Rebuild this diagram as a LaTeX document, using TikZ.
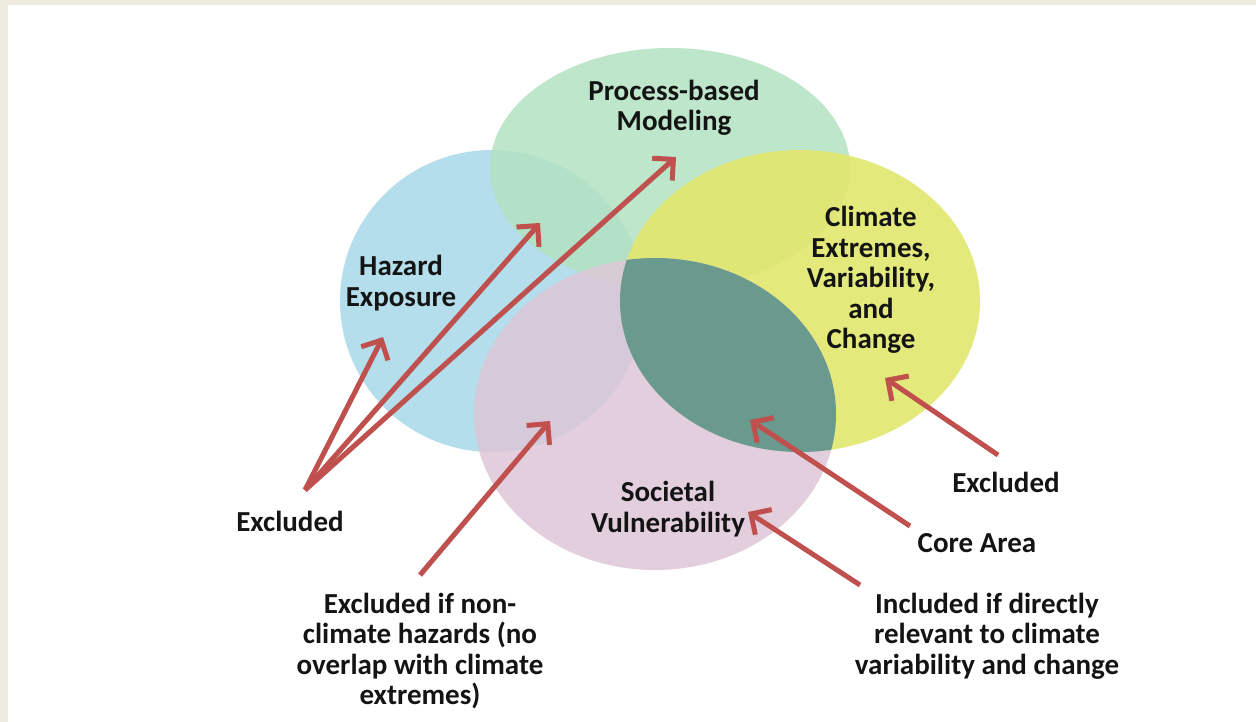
\documentclass[tikz,border=0pt]{standalone}
\usepackage{fontspec}
\setmainfont{Carlito}
\usetikzlibrary{arrows.meta}
\definecolor{pageC}{RGB}{237,234,223}
\definecolor{blueC}{RGB}{180,222,236}
\definecolor{greenC}{RGB}{178,226,193}
\definecolor{yellowC}{RGB}{226,231,109}
\definecolor{pinkC}{RGB}{221,198,214}
\definecolor{coreC}{RGB}{106,154,142}
\definecolor{arrowred}{RGB}{192,80,77}
\begin{document}
\begin{tikzpicture}[x=1pt,y=-1pt,
  lbl/.style={font=\fontsize{29}{30.5}\selectfont\bfseries, align=center, text=black!92, inner sep=0pt},
  ptr/.style={draw=arrowred, line width=5pt,
    -{Straight Barb[length=15pt,width=30pt]},
    preaction={draw=black, draw opacity=0.18, transform canvas={shift={(1.5pt,-2pt)}}}}]
  % page frame
  \fill[pageC] (0,0) rectangle (1256,722);
  \fill[white] (8,5) rectangle (1256,722);
  \useasboundingbox (0,0) rectangle (1256,722);

  % the four overlapping fields
  \fill[blueC] (492,301) ellipse [x radius=152pt, y radius=151pt];
  \fill[greenC, fill opacity=0.85] (670,168) ellipse [x radius=180pt, y radius=120pt];
  \fill[yellowC, fill opacity=0.9] (800,301) ellipse [x radius=180pt, y radius=151pt];
  \fill[pinkC, fill opacity=0.85] (655,414) ellipse [x radius=181pt, y radius=156pt];
  % core area: climate extremes meets societal vulnerability
  \begin{scope}
    \clip (800,301) ellipse [x radius=180pt, y radius=151pt];
    \fill[coreC] (655,414) ellipse [x radius=181pt, y radius=156pt];
  \end{scope}

  % field titles
  \node[lbl] (pbm) at (674,108) {Process-based\\Modeling};
  \node[lbl] (haz) at (401,283) {Hazard\\Exposure};
  \node[lbl] (cli) at (871,280) {Climate\\Extremes,\\Variability,\\and\\Change};
  \node[lbl] (soc) at (668,509) {Societal\\Vulnerability};

  % annotations
  \node[lbl] (exl) at (290,521) {Excluded};
  \node[lbl] (exr) at (1006,482) {Excluded};
  \node[lbl] (core) at (977,543) {Core Area};
  \node[lbl] (nonc) at (420,651) {Excluded if non-\\climate hazards (no\\overlap with climate\\extremes)};
  \node[lbl] (incl) at (987,636) {Included if directly\\relevant to climate\\variability and change};

  % arrow anchors
  \coordinate (exlT) at (305,490);
  \coordinate (hazP) at (383,337);
  \coordinate (hgP) at (540,223);
  \coordinate (pbmP) at (676,157);
  \coordinate (noncT) at (420,575);
  \coordinate (hpP) at (550,421);
  \coordinate (coreT) at (910,526);
  \coordinate (coreP) at (750,420);
  \coordinate (inclT) at (860,585);
  \coordinate (socP) at (748,512);
  \coordinate (exrT) at (998,455);
  \coordinate (cliP) at (885,378);

  \draw[ptr] (exlT) -- (hazP);
  \draw[ptr] (exlT) -- (hgP);
  \draw[ptr] (exlT) -- (pbmP);
  \draw[ptr] (noncT) -- (hpP);
  \draw[ptr] (coreT) -- (coreP);
  \draw[ptr] (inclT) -- (socP);
  \draw[ptr] (exrT) -- (cliP);
\end{tikzpicture}
\end{document}
